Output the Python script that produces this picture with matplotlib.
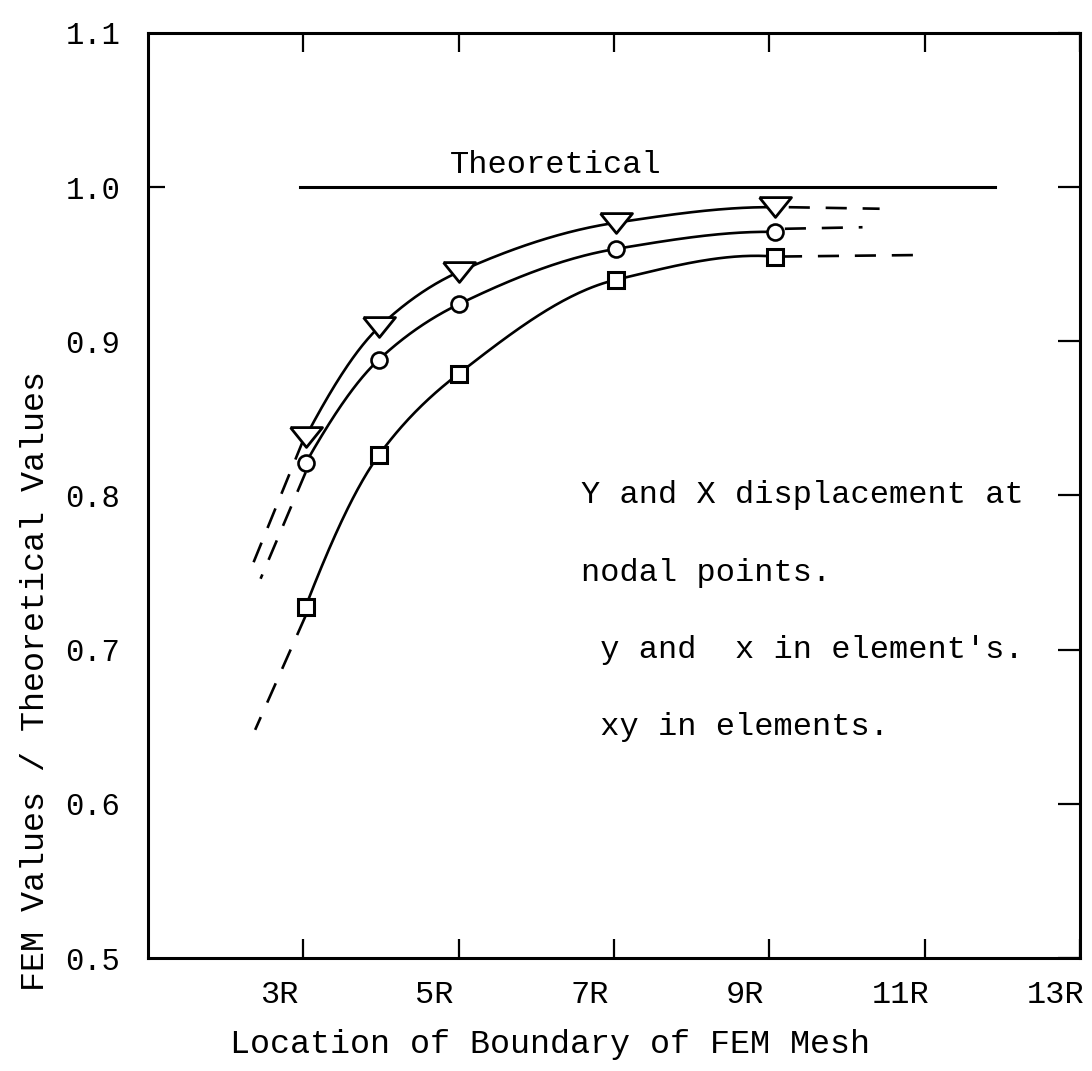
import numpy as np
import matplotlib
matplotlib.use('Agg')
import matplotlib.pyplot as plt
from matplotlib.transforms import ScaledTranslation

plt.rcParams['font.family'] = ['Liberation Mono', 'DejaVu Sans Mono']

# values (x in units of R)
x_pts = [3.03, 3.97, 5.0, 7.03, 9.07]
tri_y = [0.838, 0.909, 0.945, 0.977, 0.987]
circ_y = [0.821, 0.888, 0.924, 0.960, 0.971]
sq_y = [0.728, 0.826, 0.879, 0.940, 0.955]

# dashed extrapolations (start, end)
tri_left = ([3.0, 2.33], [0.836, 0.753])
circ_left = ([3.03, 2.45], [0.815, 0.746])
sq_left = ([3.03, 2.38], [0.722, 0.648])
tri_right = ([9.25, 10.42], [0.987, 0.986])
circ_right = ([9.2, 10.2], [0.973, 0.974])
sq_right = ([9.15, 10.96], [0.955, 0.956])

theory_x = [2.96, 11.9]
theory_y = [1.0, 1.0]

x_ticks = [3, 5, 7, 9, 11, 13]
x_labels = ['3R', '5R', '7R', '9R', '11R', '13R']
y_ticks = [0.5, 0.6, 0.7, 0.8, 0.9, 1.0, 1.1]
y_labels = ['0.5', '0.6', '0.7', '0.8', '0.9', '1.0', '1.1']

note_lines = ['Y and X displacement at',
              'nodal points.',
              ' y and  x in element\'s.',
              ' xy in elements.']
note_y = [0.80, 0.75, 0.70, 0.65]


def smooth(xs, ys, n=60):
    # monotone cubic hermite through the read points, only for drawing
    xs = np.asarray(xs, float)
    ys = np.asarray(ys, float)
    h = np.diff(xs)
    d = np.diff(ys) / h
    m = np.zeros_like(ys)
    for i in range(1, len(xs) - 1):
        if d[i - 1] * d[i] > 0:
            w1 = 2 * h[i] + h[i - 1]
            w2 = h[i] + 2 * h[i - 1]
            m[i] = (w1 + w2) / (w1 / d[i - 1] + w2 / d[i])
    m[0] = ((2 * h[0] + h[1]) * d[0] - h[0] * d[1]) / (h[0] + h[1])
    m[-1] = ((2 * h[-1] + h[-2]) * d[-1] - h[-1] * d[-2]) / (h[-1] + h[-2])
    out_x, out_y = [], []
    for i in range(len(h)):
        t = np.linspace(0, 1, n)
        h00 = 2 * t**3 - 3 * t**2 + 1
        h10 = t**3 - 2 * t**2 + t
        h01 = -2 * t**3 + 3 * t**2
        h11 = t**3 - t**2
        out_x.append(xs[i] + t * h[i])
        out_y.append(h00 * ys[i] + h10 * h[i] * m[i] + h01 * ys[i + 1] + h11 * h[i] * m[i + 1])
    return np.concatenate(out_x), np.concatenate(out_y)


fig = plt.figure(figsize=(10.92, 10.71), dpi=100)
ax = fig.add_axes([0.1355, 0.1055, 0.8535, 0.8637])

lw = 1.9
dash = (0, (8, 6))

for ys in [tri_y, circ_y, sq_y]:
    sx, sy = smooth(x_pts, ys)
    ax.plot(sx, sy, color='black', lw=lw, zorder=2)

for seg in [tri_left, circ_left, sq_left, tri_right, circ_right, sq_right]:
    ax.plot(seg[0], seg[1], color='black', lw=lw, linestyle=dash, zorder=2)

tri_marker = [(-1, 0.62), (1, 0.62), (0, -0.62), (-1, 0.62)]
ax.plot(x_pts, tri_y, linestyle='none', marker=tri_marker, ms=23,
        mfc='white', mec='black', mew=2.0, zorder=3)
ax.plot(x_pts, circ_y, linestyle='none', marker='o', ms=11.5,
        mfc='white', mec='black', mew=1.9, zorder=3)
ax.plot(x_pts, sq_y, linestyle='none', marker='s', ms=12,
        mfc='white', mec='black', mew=2.2, zorder=3)

ax.plot(theory_x, theory_y, color='black', lw=2.2, zorder=2)
ax.text(6.25, 1.009, 'Theoretical', ha='center', va='baseline', fontsize=23)

for txt, yy in zip(note_lines, note_y):
    ax.text(6.57, yy, txt, ha='left', va='center', fontsize=23)

ax.set_xlim(1, 13)
ax.set_ylim(0.5, 1.1)
ax.set_xticks(x_ticks)
ax.set_xticklabels(x_labels, fontsize=23)
ax.set_yticks(y_ticks)
ax.set_yticklabels(y_labels, fontsize=22)

ax.tick_params(axis='x', direction='in', top=True, bottom=True,
               length=14, width=1.6, pad=16)
ax.tick_params(axis='y', direction='in', left=False, right=True,
               length=16, width=1.6, pad=20)

# the only tick on the left side sits at 1.0
sec = ax.secondary_yaxis('left')
sec.set_yticks([1.0])
sec.set_yticklabels([])
sec.tick_params(direction='in', length=12, width=1.6)
sec.spines['left'].set_visible(False)

shift = ScaledTranslation(-24 / 100, 0, fig.dpi_scale_trans)
for lab in ax.get_xticklabels():
    lab.set_transform(lab.get_transform() + shift)

for sp in ax.spines.values():
    sp.set_linewidth(2.2)

ax.set_xlabel('Location of Boundary of FEM Mesh', fontsize=24)
ax.xaxis.set_label_coords(0.431, -0.094)
ax.xaxis.label.set_verticalalignment('center')
ax.set_ylabel('FEM Values / Theoretical Values', fontsize=24)
ax.yaxis.set_label_coords(-0.121, 0.30)
ax.yaxis.label.set_verticalalignment('center')

fig.savefig('out.png', dpi=100, facecolor='white')
